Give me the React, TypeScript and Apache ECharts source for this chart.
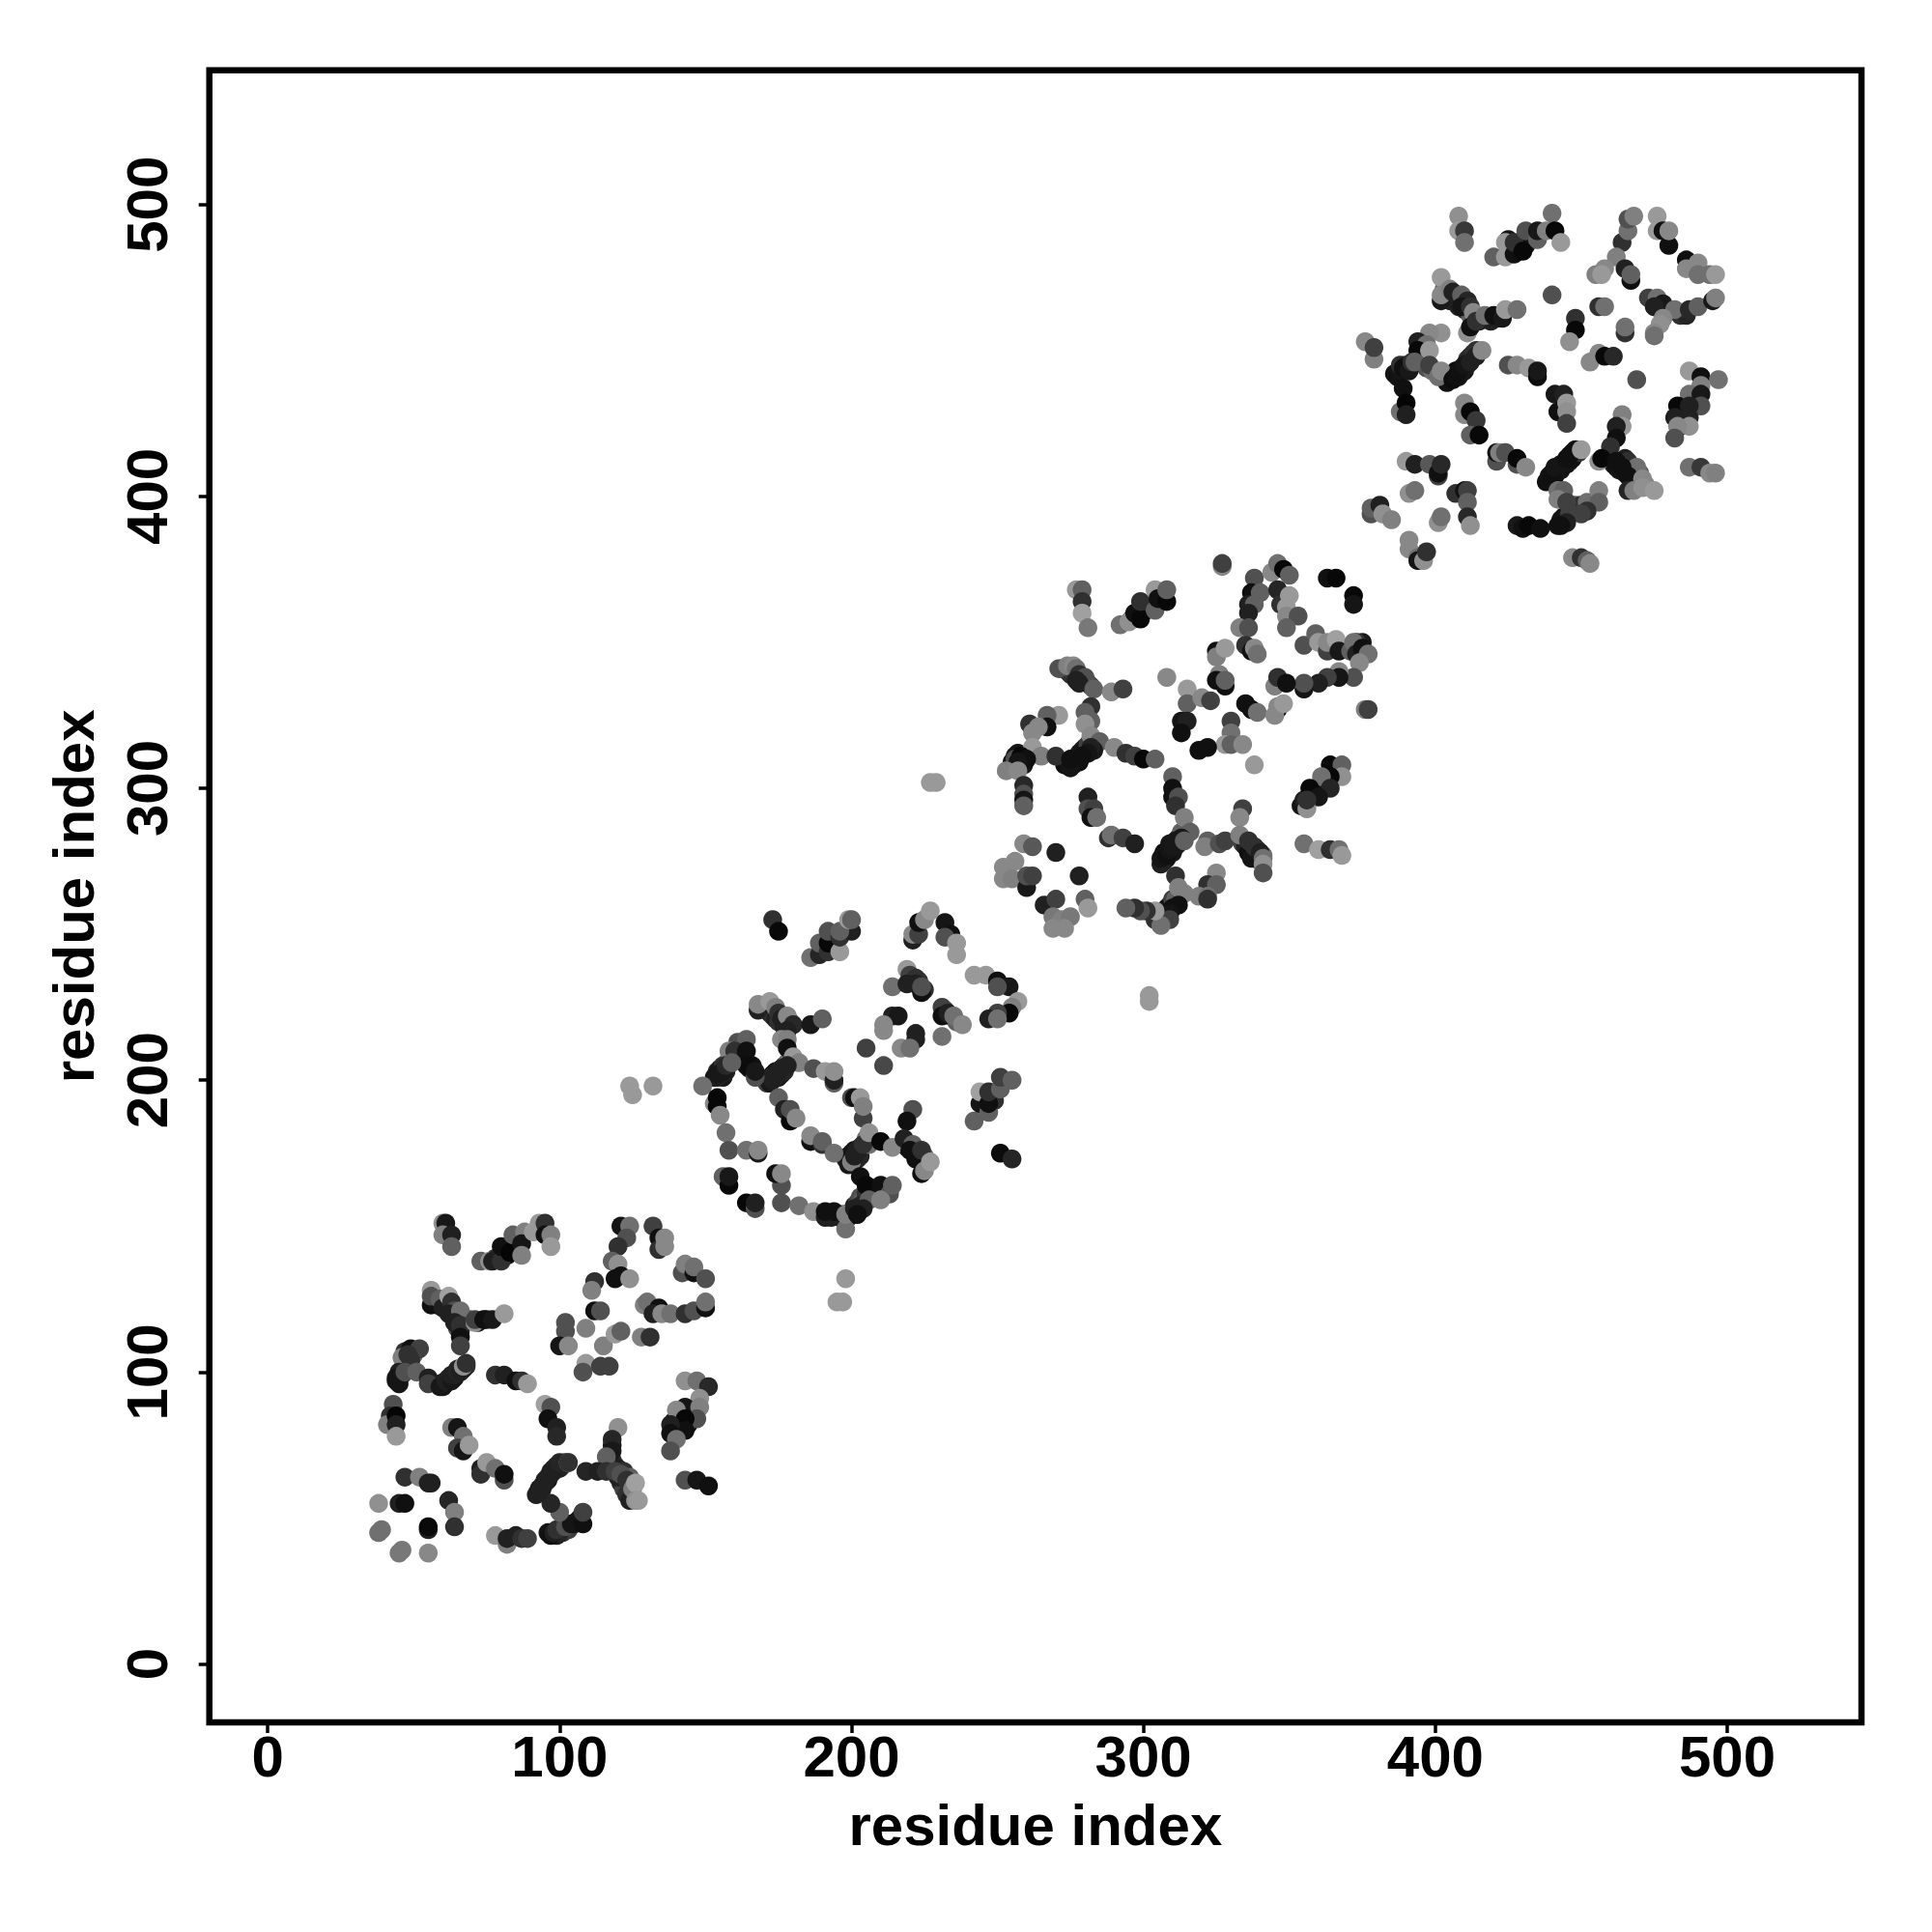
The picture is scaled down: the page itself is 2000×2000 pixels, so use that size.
import React, { useEffect, useRef } from "react";
import * as echarts from "echarts";

type P = [number, number, number];

const tickValues = [0, 100, 200, 300, 400, 500];
const axisName = "residue index";

// [residue x, residue y, grey level]
const denseRuns: P[] = [
[44,97,0x18],[45,98,0x20],[46,99,0x20],[46,101,0x25],[47,102,0x30],[48,103,0x40],[50,106,0x60],[47,107,0x30],
[59,96,0x20],[60,96,0x15],[62,97,0x20],[64,98,0x18],[65,101,0x28],[66,101,0x25],[68,102,0x30],
[57,125,0x10],[58,123,0x20],[59,123,0x30],[61,123,0x18],[62,122,0x20],[63,122,0x15],[64,120,0x30],[65,119,0x30],[65,118,0x20],[65,115,0x50],[66,114,0x20],[67,118,0x60],[69,118,0x40],[72,117,0x15],[75,118,0x20],
[92,58,0x20],[93,60,0x15],[94,60,0x20],[95,63,0x20],[96,63,0x15],[97,65,0x20],[98,66,0x20],[99,68,0x20],[100,67,0x20],[101,68,0x25],[102,69,0x20],[101,45,0x30],[103,46,0x40],[105,48,0x20],[106,49,0x25],[107,50,0x15],[99,44,0x20],[100,45,0x25],
[118,70,0x30],[119,68,0x25],[120,67,0x20],[122,66,0x30],[122,64,0x30],[121,62,0x25],[122,60,0x40],[123,58,0x30],[124,64,0x60],[125,62,0x90],[118,75,0x15],[120,64,0x20],
[139,83,0x18],[141,84,0x10],[142,86,0x08],[144,82,0x10],[139,80,0x20],
[81,141,0x10],[82,140,0x10],[84,141,0x15],[85,143,0x10],[78,139,0x30],
[153,201,0x15],[154,203,0x20],[155,202,0x15],[155,204,0x18],[156,205,0x30],[158,207,0x40],[156,201,0x18],[157,203,0x20],[165,204,0x18],[166,205,0x10],[171,199,0x40],[172,199,0x18],[173,202,0x15],[174,203,0x15],[175,201,0x18],[176,202,0x18],[177,203,0x25],[177,205,0x40],[178,206,0x60],[179,207,0x80],
[170,225,0x60],[171,224,0x40],[172,223,0x20],[173,222,0x30],[174,221,0x20],[175,220,0x30],[177,218,0x20],[179,220,0x25],
[198,173,0x20],[199,171,0x18],[199,174,0x18],[200,175,0x18],[201,176,0x15],[202,173,0x20],[203,174,0x25],[203,177,0x20],[205,180,0x70],[206,178,0x70],
[218,178,0x15],[219,177,0x15],[221,176,0x25],[222,175,0x40],[223,174,0x30],[224,172,0x20],[225,174,0x60],[225,171,0x50],
[196,153,0x15],[197,154,0x20],[199,153,0x15],[200,155,0x10],[201,157,0x15],[202,158,0x40],[203,160,0x50],[204,159,0x60],[205,161,0x30],[207,163,0x10],[208,161,0x50],[202,156,0x15],[203,157,0x25],[192,154,0x15],[193,153,0x20],
[221,234,0x40],[223,234,0x30],[225,231,0x30],[232,224,0x30],[234,222,0x25],[236,220,0x60],[248,195,0x20],[249,193,0x30],
[255,309,0x10],[256,311,0x15],[257,312,0x15],[258,309,0x08],[259,311,0x10],[259,308,0x15],[261,312,0x40],[273,308,0x10],[274,309,0x15],[276,309,0x10],[277,310,0x15],[278,311,0x10],[278,312,0x20],[280,313,0x15],[280,314,0x25],[279,313,0x18],[281,315,0x40],[272,341,0x60],[274,340,0x50],[275,339,0x30],[276,340,0x40],[277,339,0x25],[279,337,0x30],[281,336,0x40],[282,335,0x40],
[307,275,0x15],[307,278,0x10],[308,276,0x15],[309,278,0x12],[309,281,0x18],[310,278,0x18],[311,280,0x15],[312,281,0x18],[312,283,0x25],[313,285,0x60],
[334,281,0x40],[335,280,0x20],[336,280,0x25],[337,279,0x30],[338,278,0x30],[339,277,0x40],[340,275,0x60],[339,279,0x50],[341,277,0x70],
[304,255,0x30],[306,256,0x15],[307,258,0x10],[308,259,0x15],[309,260,0x15],[310,262,0x40],[311,262,0x60],
[298,359,0x20],[296,358,0x30],[300,362,0x15],[301,361,0x30],[306,366,0x15],[375,350,0x18],[374,348,0x18],[373,350,0x30],[358,297,0x10],[359,299,0x08],[361,301,0x15],[362,303,0x10],[354,294,0x15],[355,296,0x20],
[404,439,0x10],[405,441,0x10],[406,442,0x15],[407,443,0x10],[408,441,0x15],[409,444,0x18],[410,443,0x18],[411,445,0x20],[411,447,0x30],[412,448,0x25],[413,449,0x30],[414,450,0x30],
[438,405,0x10],[439,407,0x12],[440,408,0x12],[441,407,0x10],[442,409,0x12],[443,409,0x15],[444,411,0x15],[445,411,0x12],[446,412,0x15],[447,413,0x10],[447,415,0x15],[449,415,0x30],
[403,468,0x30],[403,471,0x60],[404,468,0x25],[405,467,0x20],[407,468,0x40],[408,467,0x25],[408,465,0x20],[410,464,0x25],[411,464,0x40],[412,462,0x60],[415,460,0x20],[418,461,0x15],[419,460,0x20],[421,461,0x20],
[461,411,0x20],[462,410,0x10],[463,409,0x15],[465,408,0x15],[466,410,0x25],[468,408,0x40],[470,408,0x60],[469,405,0x70],[472,404,0x80],
[386,442,0x15],[387,441,0x12],[388,443,0x15],[388,445,0x30],[390,445,0x20],[395,447,0x70],[397,444,0x50],[399,443,0x70],
[478,465,0x30],[477,464,0x15],[479,463,0x60],[484,462,0x30],[486,462,0x25],[484,424,0x20],[485,426,0x10],[484,428,0x12],[485,431,0x10],
[443,392,0x15],[444,393,0x15],[447,396,0x30],[448,397,0x60],[449,396,0x25],[450,397,0x30],[425,488,0x15],[428,484,0x08],[429,486,0x10],[431,486,0x12],
];

const domainA: P[] = [
[60,151,0x90],[61,151,0x18],[60,147,0x80],[63,147,0x20],[63,143,0x60],
[73,138,0x60],[76,138,0x90],[77,138,0x20],[80,138,0x30],[80,143,0x10],[83,141,0x05],[84,147,0x60],[88,148,0x80],[87,144,0x15],[87,140,0x80],[91,148,0x99],[93,151,0x99],[95,151,0x30],[95,147,0x10],[97,147,0x80],[97,143,0x99],
[56,128,0x99],[56,123,0x10],[56,126,0x50],[59,125,0x60],[60,122,0x20],[62,126,0xa0],[63,124,0x30],[64,121,0x50],[62,120,0x20],[66,121,0x70],[66,119,0x70],[64,117,0x20],[66,116,0x30],[66,112,0x10],[66,109,0x40],[71,117,0x90],[71,118,0x40],[74,118,0x10],[77,118,0x18],[81,120,0x99],
[49,108,0x10],[52,108,0x40],[46,105,0x80],[48,106,0x30],[49,104,0x30],[45,100,0x20],[44,98,0x15],[45,96,0x15],[47,100,0x50],[51,100,0x60],[55,98,0x20],[55,96,0x40],[59,95,0x18],[60,95,0x18],[61,96,0x18],[61,97,0x20],[62,98,0x20],[63,97,0x18],[63,99,0x20],[64,99,0x20],[65,100,0x25],[66,100,0x20],[67,101,0x20],[67,102,0x90],[68,103,0x30],
[78,99,0x30],[81,99,0x20],[85,97,0x10],[87,97,0x30],[89,96,0x99],
[43,89,0x50],[42,85,0x30],[41,82,0x80],[44,85,0x05],[44,82,0x20],[44,78,0x99],
[63,81,0x80],[65,81,0x15],[67,78,0x70],[65,74,0x40],[67,73,0x15],[69,75,0x99],
[73,67,0x20],[73,65,0x30],[75,69,0x99],[78,67,0x70],[81,63,0x50],[81,65,0x10],
[47,64,0x30],[52,64,0x80],[55,62,0x20],[56,62,0x20],[38,55,0x90],[45,55,0x20],[47,55,0x10],[62,56,0x25],[64,52,0x80],[64,47,0x30],[55,46,0x20],[55,47,0x0a],[38,45,0x70],[39,46,0x70],[45,38,0x78],[46,39,0x78],[55,38,0x88],
[78,44,0x99],[82,41,0x80],[82,43,0x20],[85,44,0x20],[87,43,0x30],[89,43,0x40],
[96,45,0x15],[97,44,0x10],[98,45,0x20],[99,46,0x30],[102,47,0x50],[104,48,0x15],[108,48,0x10],[108,52,0x40],[100,52,0x60],[97,55,0x25],
[93,59,0x20],[94,61,0x20],[95,62,0x20],[96,64,0x20],[97,66,0x20],[98,67,0x20],[100,69,0x25],[103,69,0x90],[103,69,0x30],
[120,81,0x90],[118,77,0x25],[118,73,0x18],[116,71,0x60],[109,66,0x25],[113,66,0x20],[116,66,0x30],[119,66,0x40],[121,65,0x50],[123,63,0x30],[124,56,0x20],[125,60,0x80],[126,62,0xa0],[126,56,0x90],[127,56,0x99],
[95,89,0xa0],[97,88,0x50],[96,84,0x10],[99,81,0x20],[99,78,0x28],
[143,97,0x90],[147,97,0x70],[151,95,0x28],[148,91,0x90],[143,88,0x15],[140,87,0x88],[148,88,0x80],[147,84,0x50],[143,84,0x08],[143,80,0x10],[138,82,0x20],[138,79,0x10],[140,77,0x70],[138,73,0x50],
[143,63,0x50],[147,63,0x15],[151,61,0x10],
[121,150,0x15],[124,150,0x70],[123,146,0x50],[120,143,0x30],[118,138,0x60],[120,137,0x90],[119,132,0x10],[121,133,0x10],[124,132,0x90],
[132,150,0x40],[134,146,0x10],[134,142,0x30],[136,146,0x88],[136,143,0x88],
[142,134,0x50],[143,137,0x80],[146,134,0x10],[146,136,0x70],[150,132,0x50],
[112,131,0x30],[111,128,0x80],[112,121,0x10],[114,121,0x50],[109,115,0x80],[102,117,0x50],[102,114,0x50],[100,109,0x15],[103,109,0x88],
[115,109,0x80],[119,113,0x99],[121,114,0x60],[128,112,0x80],[131,112,0x30],
[109,103,0x99],[108,100,0x50],[114,102,0x40],[117,102,0x40],
[129,123,0x80],[130,124,0x70],[134,122,0x10],[132,120,0x20],[135,120,0x88],[138,120,0x70],[143,120,0x30],[146,121,0x50],[150,122,0x10],[150,124,0x70],
];

const domainB: P[] = [
[173,255,0x30],[175,251,0x08],
[186,242,0x70],[189,243,0x25],[189,247,0x60],[192,244,0x30],[192,247,0x08],[196,244,0x99],[192,251,0x50],[196,249,0x30],[200,251,0x20],[196,251,0x60],[199,255,0x99],[200,255,0x60],
[221,248,0x20],[221,250,0x88],[223,250,0x40],[223,254,0x10],[225,255,0x88],[227,258,0x99],
[232,254,0x15],[234,250,0x10],[232,249,0x50],[236,243,0x99],[236,247,0x99],
[242,236,0x99],[246,236,0x99],[250,234,0x10],[254,232,0x18],[250,232,0x50],
[257,227,0x99],[255,225,0x80],[254,223,0x08],[250,223,0x40],[247,221,0x20],[250,221,0x70],
[219,238,0x99],[220,236,0x40],[222,235,0x30],[214,232,0x70],[219,233,0x20],[222,233,0x20],[224,230,0x10],[224,232,0x50],
[231,225,0x40],[231,222,0x10],[233,223,0x20],[231,215,0x70],[235,222,0x70],[238,219,0x88],
[214,222,0x20],[216,222,0x18],[211,219,0x88],[211,217,0x88],[205,211,0x40],[211,205,0x48],[222,216,0x20],[222,214,0x20],[217,211,0x88],[220,211,0x70],
[168,224,0x20],[168,226,0x88],[172,227,0x99],[174,225,0x80],[175,223,0x30],[176,221,0x20],[178,222,0x88],[180,219,0x28],[186,219,0x18],[190,221,0x60],[178,217,0x20],[176,214,0x88],[178,214,0x80],[178,211,0x10],[180,208,0x99],[182,206,0x80],
[187,204,0x50],[191,203,0x99],[194,199,0x60],[194,200,0x20],[194,203,0x90],
[172,201,0x20],[173,200,0x20],[174,201,0x20],[175,203,0x20],[176,204,0x20],[178,205,0x20],
[161,213,0x50],[164,214,0x60],[158,210,0x80],[160,210,0x30],[164,210,0x10],[164,205,0x0c],[167,201,0x50],[167,203,0x18],[154,201,0x20],[154,202,0x18],[156,203,0x18],[157,205,0x28],[159,206,0x60],
[149,198,0x70],[124,198,0x99],[125,195,0x99],[132,198,0x99],
[153,192,0x88],[154,194,0x08],[154,191,0x08],[155,188,0x88],[157,182,0x70],[158,176,0x50],[164,176,0x70],[168,175,0x18],[168,176,0x88],
[156,167,0x60],[158,164,0x08],[158,167,0x18],
[164,158,0x08],[167,156,0x50],[167,158,0x20],[176,158,0x50],[182,157,0x70],[187,155,0x90],[191,153,0x20],[191,155,0x10],[194,155,0x10],[198,149,0x70],[198,154,0x80],
[176,164,0x50],[174,168,0x10],[176,168,0x88],
[175,194,0x60],[177,190,0x20],[179,186,0x08],[179,190,0x50],[181,187,0x88],
[186,179,0x10],[186,181,0x88],[190,178,0x30],[190,179,0x60],[194,175,0x70],
[200,194,0x50],[201,194,0x10],[203,194,0x99],[204,187,0x40],[204,191,0x80],
[221,190,0x50],[219,186,0x10],
[200,172,0x80],[201,174,0x20],[202,176,0x20],[204,178,0x30],[206,182,0x90],[210,179,0x08],[214,177,0x88],[218,180,0x20],[221,178,0x60],[220,176,0x10],[222,173,0x10],[224,176,0x30],[224,168,0x10],[225,169,0x88],[227,172,0x99],
[203,167,0x10],[205,164,0x08],[210,164,0x10],[213,161,0x50],[214,164,0x60],[206,159,0x60],[210,159,0x80],[201,156,0x20],[204,156,0x20],[202,154,0x10],
[242,186,0x60],[244,192,0x15],[244,196,0xa0],[247,189,0x60],[247,192,0x10],[247,196,0x30],[251,197,0x60],[251,201,0x40],[255,200,0x60],
[251,175,0x0c],[255,173,0x25],
[195,124,0x99],[197,124,0x99],[198,132,0x99],
];

const domainC: P[] = [
[327,376,0x88],[327,377,0x40],
[277,368,0x99],[279,368,0x60],[279,364,0x30],[279,360,0xa0],[281,355,0x78],
[292,356,0x70],[295,357,0x90],[297,360,0x10],[299,358,0x08],[299,364,0x30],[304,361,0x60],[304,368,0x99],[305,365,0x10],[308,364,0x08],[308,368,0x60],
[363,372,0x10],[366,372,0x08],[372,366,0x08],[372,363,0x15],
[338,372,0x50],[344,374,0x88],[346,377,0x70],[348,375,0x08],[350,373,0x60],[337,367,0x10],[340,367,0x60],[346,368,0x25],[347,363,0x30],[349,362,0x99],[350,366,0x99],[349,359,0x88],[353,359,0x50],[349,355,0x60],
[336,363,0x20],[338,363,0x60],[336,360,0x20],[333,355,0x80],[336,355,0x50],
[335,349,0x30],[337,347,0x10],[338,348,0x88],[339,346,0x70],[325,347,0x10],[325,345,0x80],[328,348,0x99],
[355,349,0x50],[359,353,0x60],[360,350,0x99],[363,347,0x40],[363,350,0x88],[366,351,0xa0],[367,347,0x18],[371,347,0x60],[372,350,0x70],[373,346,0x20],[375,348,0x10],[377,346,0x70],[374,343,0x88],
[372,338,0x50],[367,340,0x88],[367,338,0x15],[363,338,0x40],[360,336,0x20],[355,334,0x15],[355,336,0x50],[345,335,0x80],[346,338,0x30],[349,336,0x10],
[376,327,0x80],[377,327,0x40],[308,338,0x88],
[315,334,0x99],[315,329,0x60],[320,331,0x88],[323,330,0x40],
[326,339,0x80],[325,337,0x10],[328,335,0x10],[328,337,0x60],
[313,323,0x15],[315,323,0x20],[313,319,0x10],
[335,329,0x10],[337,327,0x10],[339,326,0x70],[346,327,0x10],[345,325,0x88],[346,328,0x88],[348,329,0x99],
[330,323,0x40],[330,319,0x70],[328,315,0x99],[330,315,0x60],[334,315,0x88],[319,313,0x10],[322,314,0x10],[338,308,0x99],
[364,308,0x08],[368,308,0x60],[368,304,0x90],[364,304,0x08],[361,304,0x70],[364,300,0x25],[357,300,0x08],[360,297,0x15],[356,293,0x90],[356,296,0x30],
[355,281,0x70],[360,279,0xa0],[364,279,0x30],[367,279,0x70],[368,277,0x99],
[271,341,0x50],[274,342,0x80],[276,342,0x88],[277,341,0x70],[278,339,0x30],[280,338,0x50],[277,337,0x20],[278,336,0x20],[283,334,0x60],[289,333,0x88],[293,334,0x40],
[282,328,0x30],[280,326,0x60],[282,323,0x60],[280,322,0x90],[282,318,0x88],[285,316,0x60],[283,313,0x18],[282,314,0x20],[281,312,0x15],[279,311,0x10],[278,309,0x10],[276,308,0x10],[275,307,0x15],
[271,325,0x99],[267,325,0x60],[267,321,0x10],[261,322,0x30],[264,321,0x88],[262,319,0x88],[262,314,0x99],[265,311,0x80],
[256,310,0x50],[258,311,0x08],[260,310,0x10],[257,309,0x15],[253,306,0x80],[257,306,0x88],[259,301,0x28],[259,298,0x50],[259,296,0x15],[259,294,0x60],
[270,311,0x30],[275,310,0x10],[290,314,0x88],[294,312,0x30],[297,311,0x40],[300,310,0x08],[304,310,0x60],
[281,297,0x20],[281,293,0x50],[283,293,0x40],[282,290,0x10],[284,290,0x70],
[288,283,0x30],[289,284,0x70],[293,283,0x40],[297,281,0x20],
[310,304,0x60],[310,300,0x10],[310,297,0x10],[312,297,0x50],[311,294,0x30],[314,290,0x80],
[316,285,0x60],[322,282,0x60],[321,280,0x80],[326,281,0x50],[328,282,0x40],
[306,274,0x20],[306,276,0x15],[308,277,0x10],[309,279,0x15],[310,280,0x18],[311,282,0x18],[313,283,0x18],[314,282,0x60],
[334,293,0x40],[333,290,0x88],[333,284,0x80],[336,278,0x10],[337,276,0x15],[336,282,0x30],[338,280,0x30],[340,278,0x20],[341,276,0x70],[341,274,0x90],[341,271,0x50],
[311,270,0x30],[312,266,0x80],[325,271,0x88],[322,267,0x30],[325,267,0x60],[319,263,0x80],[322,263,0x70],[322,262,0x30],[314,264,0x80],
[312,260,0x10],[310,259,0x10],[309,257,0x15],[309,255,0x40],[306,253,0x70],[304,258,0x99],[301,258,0x30],[299,258,0x50],[297,259,0x30],[294,259,0x60],
[259,281,0x88],[262,280,0x58],[270,278,0x20],[278,270,0x20],
[252,273,0x88],[252,269,0x88],[256,275,0x88],[255,269,0x80],[260,266,0x18],[260,270,0x50],[262,270,0x40],
[266,260,0x20],[270,262,0x40],[280,262,0x60],[281,259,0x99],[269,256,0x78],[272,255,0x80],[275,256,0x78],[269,252,0x88],[273,252,0x88],
[302,229,0x99],[302,227,0x99],[227,302,0x99],[229,302,0x99],
];

const domainD: P[] = [
[408,496,0x90],[408,491,0x99],[410,491,0x38],[410,487,0x70],
[420,482,0x60],[424,487,0x99],[424,482,0x99],[427,483,0x10],[427,487,0x30],[430,484,0x08],[431,491,0x50],[435,488,0x60],[435,491,0x18],[440,497,0x70],[438,491,0x80],[441,491,0x08],[443,487,0x99],
[464,487,0x30],[466,491,0x70],[466,495,0x50],[468,496,0x80],
[476,496,0x99],[476,491,0x99],[478,491,0x10],[480,486,0x10],[480,491,0x88],
[486,481,0x10],[486,478,0x88],[490,480,0x88],[490,476,0x70],[494,476,0x70],[496,476,0x99],
[462,482,0x80],[458,478,0x88],[455,476,0x80],[457,476,0x99],[465,478,0x20],[467,474,0x10],[467,476,0x60],
[440,469,0x50],[456,465,0x30],[458,465,0x70],
[448,461,0x30],[448,457,0x08],[446,453,0x90],[465,456,0x30],[465,458,0x70],
[473,468,0x40],[476,468,0x70],[478,466,0x18],[475,465,0x20],[482,464,0x70],[478,461,0x88],[477,459,0x90],[475,456,0x88],[475,455,0x70],
[487,464,0x28],[490,465,0x60],[495,467,0x18],[496,468,0x80],
[453,446,0x88],[456,449,0x88],[458,448,0x08],[461,448,0x28],[469,440,0x50],
[487,443,0x99],[491,441,0x10],[497,440,0x70],[491,438,0x80],[487,435,0x70],[491,435,0x18],[491,431,0x50],[483,431,0x08],[487,431,0x20],[482,427,0x20],[487,427,0x20],[487,424,0x90],[483,424,0x88],[482,420,0x50],
[487,410,0x70],[491,410,0x38],[494,408,0x88],[496,408,0x80],
[425,445,0x50],[428,445,0x88],[432,444,0x99],[435,441,0x0c],[435,443,0x18],
[441,435,0x18],[444,435,0x20],[442,429,0x10],[445,432,0x99],[445,429,0x90],[445,425,0x40],
[410,432,0x88],[410,428,0x88],[412,429,0x08],[414,426,0x38],[412,421,0x60],[415,421,0x08],
[421,412,0x50],[421,415,0x10],[422,415,0x80],[424,415,0x50],[428,411,0x50],[428,413,0x08],[431,410,0x88],
[464,428,0x80],[464,424,0x99],[462,424,0x20],[462,420,0x10],[460,417,0x30],[465,413,0x20],[466,412,0x30],[469,410,0x70],[456,412,0x90],[457,413,0x08],[462,412,0x10],[464,410,0x10],[466,407,0x10],[471,406,0x88],[466,402,0x25],[468,402,0x80],[471,403,0x90],[475,402,0x99],
[440,406,0x10],[440,407,0x10],[441,410,0x15],[443,411,0x15],[445,413,0x10],[446,414,0x10],[448,416,0x10],[450,416,0x99],
[442,402,0x70],[444,402,0x60],[442,399,0x80],[445,398,0x40],[452,398,0x70],[456,402,0x80],[456,398,0x60],[452,395,0x30],[450,394,0x40],[446,394,0x40],[445,391,0x20],[443,390,0x10],[442,390,0x10],
[428,390,0x18],[430,389,0x10],[432,390,0x08],[436,389,0x10],
[447,379,0x88],[450,379,0x30],[452,378,0x60],[453,377,0x88],
[390,412,0x99],[393,411,0x20],[398,411,0x58],[401,407,0x40],[401,408,0x10],[402,411,0x28],
[391,401,0x90],[393,402,0x70],[401,391,0x90],[402,393,0x70],
[407,401,0x30],[410,402,0x10],[411,402,0x40],[411,398,0x60],[411,393,0x28],[412,390,0x90],
[378,394,0x50],[378,396,0x60],[381,397,0x20],[382,394,0x90],[385,392,0x80],
[391,385,0x88],[391,382,0x88],[394,379,0x70],[394,378,0x15],[396,378,0x90],[397,381,0x30],
[376,453,0x88],[379,447,0x80],[379,451,0x40],
[389,437,0x10],[388,429,0x70],[390,432,0x05],[390,428,0x20],
[402,475,0x99],[402,467,0x18],[402,469,0x88],[405,471,0x80],[406,470,0x20],[409,469,0x60],[411,467,0x25],[409,465,0x15],[412,465,0x30],[413,463,0x88],[411,456,0x90],[412,458,0x10],
[414,460,0x30],[417,462,0x70],[420,462,0x10],[423,461,0x18],[424,464,0x99],[428,464,0x70],
[402,456,0x90],[398,456,0x88],[394,453,0x20],[397,452,0x70],[394,450,0x08],[398,450,0x99],
[389,444,0x10],[391,443,0x18],[392,446,0x30],[393,446,0x60],[398,445,0x40],[401,441,0x70],[402,443,0x88],
[406,440,0x0c],[407,441,0x10],[408,443,0x10],[410,445,0x15],[412,446,0x20],[414,448,0x20],[416,450,0x88],
];

const allPoints: P[] = [...denseRuns, ...domainA, ...domainB, ...domainC, ...domainD];
const grey = (g: number) => `rgb(${g},${g},${g})`;
const FONT = "Liberation Sans";

function valueAxis(rotate: number, margin: number, nameGap: number) {
  return {
    type: "value" as const,
    min: -20,
    max: 546,
    name: axisName,
    nameLocation: "middle" as const,
    nameGap,
    nameTextStyle: { fontFamily: FONT, fontWeight: "bold" as const, fontSize: 60, color: "#000" },
    axisLine: { show: false, onZero: false },
    splitLine: { show: false },
    axisTick: { show: true, length: 11, customValues: tickValues, lineStyle: { color: "#000", width: 3.5 } },
    axisLabel: {
      show: true,
      rotate,
      margin,
      customValues: tickValues,
      fontFamily: FONT,
      fontWeight: "bold" as const,
      fontSize: 60,
      color: "#000",
    },
  };
}

export default function App() {
  const ref = useRef<HTMLDivElement>(null);
  useEffect(() => {
    const chart = echarts.init(ref.current!, undefined, { renderer: "svg" });
    chart.setOption({
      animation: false,
      backgroundColor: "#fff",
      grid: { show: true, left: 216.7, top: 72.7, width: 1710.3, height: 1710.3, borderColor: "#000", borderWidth: 6.5, containLabel: false },
      xAxis: valueAxis(0, 5, 76),
      yAxis: valueAxis(90, 34, 110),
      series: [
        {
          type: "scatter",
          symbol: "circle",
          symbolSize: 19.5,
          itemStyle: { opacity: 1 },
          data: allPoints.map(([x, y, g]) => ({ value: [x, y], itemStyle: { color: grey(g), opacity: 1 } })),
        },
      ],
    });
    return () => chart.dispose();
  }, []);
  return <div ref={ref} style={{ position: "absolute", left: 0, top: 0, width: 2000, height: 2000 }} />;
}
